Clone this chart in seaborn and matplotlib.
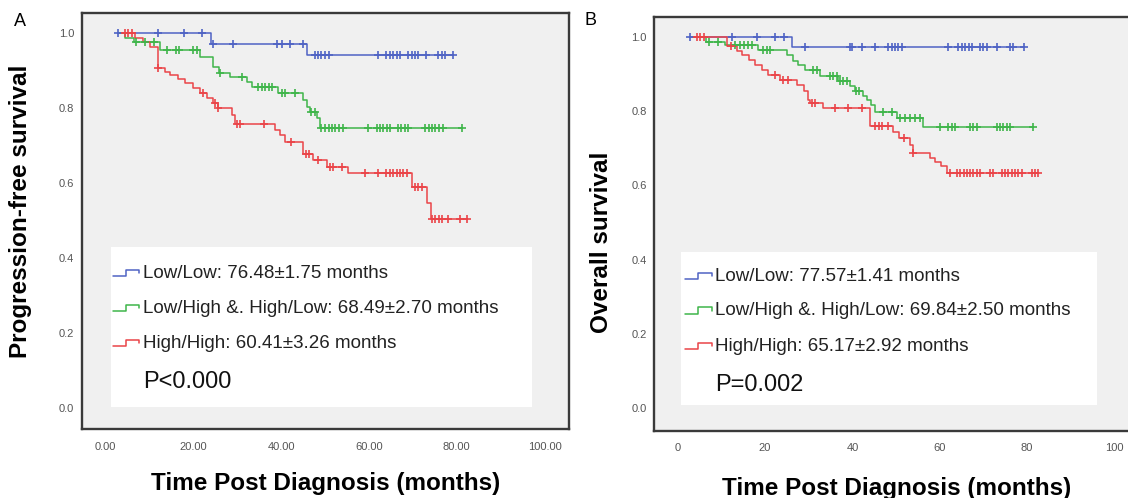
import numpy as np
import pandas as pd
import matplotlib
matplotlib.use("Agg")
import matplotlib.pyplot as plt
import seaborn as sns
from matplotlib.patches import Rectangle

# ---------------- data ----------------
group_labels = ["Low/Low", "Low/High &. High/Low", "High/High"]
x_ticks = [0, 20, 40, 60, 80, 100]
a_xtick_labels = ["0.00", "20.00", "40.00", "60.00", "80.00", "100.00"]
b_xtick_labels = ["0", "20", "40", "60", "80", "100"]
y_ticks = [0.0, 0.2, 0.4, 0.6, 0.8, 1.0]
y_tick_labels = ["0.0", "0.2", "0.4", "0.6", "0.8", "1.0"]

# Panel A - progression-free survival
a_low_start = 2.9
a_low_event_t = [24.0, 45.8]
a_low_event_s = [0.972, 0.942]
a_low_cens_t = [2.9, 12.0, 18.0, 22.0, 24.4, 29.0, 39.0, 40.2, 42.0, 45.1, 47.7, 48.5,
                 49.2, 50.0, 51.0, 62.1, 64.0, 64.8, 65.5, 66.3, 67.1, 69.0, 69.7, 70.5,
                 71.2, 73.1, 75.8, 76.6, 77.3, 79.2]

a_mid_start = 3.0
a_mid_event_t = [4.5, 6.4, 12.5, 21.5, 24.6, 25.8, 28.4, 32.2, 33.3, 39.4, 45.1, 45.8,
                 46.5, 48.1, 48.9]
a_mid_event_s = [0.988, 0.977, 0.955, 0.938, 0.911, 0.893, 0.884, 0.871, 0.858, 0.840,
                 0.822, 0.804, 0.789, 0.773, 0.748]
a_mid_cens_t = [7.0, 9.0, 11.0, 14.0, 16.1, 16.8, 20.0, 20.8, 26.1, 31.0, 34.8, 35.6, 36.4,
                37.2, 37.9, 40.1, 40.9, 43.2, 46.9, 47.7, 49.2, 50.0, 50.8, 51.5, 52.3,
                53.1, 54.0, 59.9, 61.8, 62.5, 63.3, 64.1, 64.8, 66.7, 67.4, 68.2, 69.0,
                72.8, 73.6, 74.3, 75.1, 75.9, 76.9, 81.1]

a_high_start = 3.7
a_high_event_t = [6.7, 8.6, 10.2, 12.0, 13.6, 14.7, 16.6, 18.1, 20.0, 21.5, 23.1, 24.6,
                  25.7, 28.8, 29.5, 38.6, 39.8, 40.9, 45.1, 47.3, 50.4, 55.3, 69.7, 73.2,
                  74.1]
a_high_event_s = [0.988, 0.976, 0.964, 0.908, 0.898, 0.889, 0.878, 0.867, 0.853, 0.840,
                  0.827, 0.813, 0.802, 0.782, 0.757, 0.742, 0.729, 0.711, 0.678, 0.662,
                  0.644, 0.627, 0.591, 0.547, 0.504]
a_high_cens_t = [4.5, 5.2, 6.0, 12.0, 22.3, 25.0, 25.7, 29.9, 30.6, 36.0, 42.2, 45.6, 46.3,
                 48.3, 51.1, 51.9, 53.8, 59.1, 62.1, 64.0, 64.8, 65.5, 66.3, 67.1, 67.8,
                 68.6, 70.5, 71.2, 72.0, 74.3, 75.1, 75.9, 76.6, 78.1, 80.8, 82.3]

a_means = ["76.48\u00b11.75", "68.49\u00b12.70", "60.41\u00b13.26"]
a_p_text = "P<0.000"
a_ylabel = "Progression-free survival"

# Panel B - overall survival
b_low_start = 2.8
b_low_event_t = [26.1]
b_low_event_s = [0.971]
b_low_cens_t = [2.8, 12.3, 18.2, 22.3, 24.3, 29.2, 39.4, 40.0, 42.3, 45.2, 48.2, 49.0, 49.8,
                50.5, 51.3, 62.0, 64.3, 65.1, 65.8, 66.6, 67.3, 69.2, 70.0, 70.8, 73.1,
                76.1, 76.9, 79.2]

b_mid_start = 3.5
b_mid_event_t = [6.5, 10.8, 18.4, 24.9, 26.5, 27.6, 29.1, 32.6, 36.8, 39.5, 40.6, 42.5,
                 43.3, 44.2, 45.2, 50.2, 56.2]
b_mid_event_s = [0.986, 0.977, 0.965, 0.951, 0.934, 0.923, 0.911, 0.893, 0.880, 0.867,
                 0.853, 0.840, 0.830, 0.815, 0.798, 0.780, 0.757]
b_mid_cens_t = [7.2, 9.3, 13.1, 14.2, 15.2, 16.0, 17.0, 19.6, 20.4, 21.1, 31.0, 31.8, 34.9,
                35.6, 36.4, 37.2, 37.9, 38.7, 40.9, 41.6, 47.1, 49.0, 50.9, 52.1, 53.2,
                54.4, 55.5, 60.1, 62.0, 62.7, 63.5, 66.9, 67.7, 68.5, 73.1, 73.8, 74.6,
                75.4, 76.1, 81.4]

b_high_start = 3.5
b_high_event_t = [11.2, 13.5, 14.7, 16.2, 17.7, 19.2, 20.7, 23.5, 27.2, 28.8, 29.9, 30.2,
                  33.3, 44.1, 49.4, 50.6, 53.2, 53.9, 57.8, 59.0, 60.4, 61.6]
b_high_event_s = [0.974, 0.962, 0.951, 0.938, 0.925, 0.911, 0.898, 0.884, 0.869, 0.853,
                  0.830, 0.822, 0.808, 0.760, 0.744, 0.727, 0.709, 0.688, 0.673, 0.664,
                  0.652, 0.634]
b_high_cens_t = [4.3, 5.1, 5.9, 12.2, 22.3, 24.0, 25.2, 30.7, 31.4, 36.0, 39.0, 42.1, 45.2,
                 46.0, 46.7, 48.2, 51.9, 53.9, 62.3, 63.9, 64.7, 65.5, 66.3, 66.9, 67.7,
                 68.5, 69.2, 71.5, 72.3, 74.3, 75.0, 75.7, 76.5, 77.3, 78.0, 78.8, 81.1,
                 81.9, 82.6]

b_means = ["77.57\u00b11.41", "69.84\u00b12.50", "65.17\u00b12.92"]
b_p_text = "P=0.002"
b_ylabel = "Overall survival"

x_label = "Time Post Diagnosis (months)"

# ---------------- style ----------------
colors = ["#4f63c4", "#3fb54a", "#ea4448"]
sns.set_style("white")
plt.rcParams["font.family"] = ["Liberation Sans", "DejaVu Sans"]

W, H = 1128, 498
fig = plt.figure(figsize=(W / 100, H / 100), dpi=100)
fig.patch.set_facecolor("white")

A_box = (82.0, 13.0, 569.0, 429.0)      # left, top, right, bottom in px
B_box = (654.2, 17.0, 1138.6, 430.7)


def add_axes(box):
    l, t, r, b = box
    return fig.add_axes([l / W, 1 - b / H, (r - l) / W, (b - t) / H])


def to_ax(box, px, py):
    l, t, r, b = box
    return ((px - l) / (r - l), (b - py) / (b - t))


def km_frame(start, ev_t, ev_s, cens_t):
    end = max(max(cens_t), max(ev_t))
    xs = [start] + list(ev_t) + [end]
    ys = [1.0] + list(ev_s) + [ev_s[-1]]
    levels = np.array([1.0] + list(ev_s))
    idx = np.searchsorted(np.array(ev_t), np.array(cens_t), side="right")
    cy = levels[idx]
    return pd.DataFrame({"t": xs, "s": ys}), pd.DataFrame({"t": cens_t, "s": cy})


def draw_panel(ax, box, groups, xlim, ylim, xticklabels, means, ptext,
               leg_rect, glyph_x, text_x, rows_y, p_y):
    ax.set_facecolor("#f0f0f0")
    # legend background box
    (x0, y0) = to_ax(box, leg_rect[0], leg_rect[3])
    (x1, y1) = to_ax(box, leg_rect[2], leg_rect[1])
    ax.add_patch(Rectangle((x0, y0), x1 - x0, y1 - y0, transform=ax.transAxes,
                           facecolor="white", edgecolor="none", zorder=1))
    for (start, et, es, ct), col in zip(groups, colors):
        line_df, cens_df = km_frame(start, et, es, ct)
        sns.lineplot(data=line_df, x="t", y="s", ax=ax, drawstyle="steps-post",
                     color=col, lw=1.1, estimator=None, sort=False, zorder=3)
        sns.scatterplot(data=cens_df, x="t", y="s", ax=ax, marker="+", s=32,
                        color=col, linewidth=1.2, zorder=4)
    ax.set_xlim(*xlim)
    ax.set_ylim(*ylim)
    ax.set_xticks(x_ticks)
    ax.set_xticklabels(xticklabels)
    ax.set_yticks(y_ticks)
    ax.set_yticklabels(y_tick_labels)
    ax.set_xlabel("")
    ax.set_ylabel("")
    ax.tick_params(axis="x", direction="out", length=5, width=1.3, color="#444",
                   labelsize=8, labelcolor="#555", pad=4)
    ax.tick_params(axis="y", direction="out", length=4, width=1.0, color="#444",
                   labelsize=8, labelcolor="#555", pad=1.5)
    for sp in ax.spines.values():
        sp.set_visible(True)
        sp.set_color("#3a3a3a")
        sp.set_linewidth(1.7)
    # legend entries
    gx0, gxm, gx1 = glyph_x
    for label, mean, col, py in zip(group_labels, means, colors, rows_y):
        pts = [(gx0, py + 3), (gxm, py + 3), (gxm, py - 3.5), (gx1, py - 3.5), (gx1, py)]
        xs, ys = zip(*[to_ax(box, px, pyy) for px, pyy in pts])
        ax.plot(xs, ys, color=col, lw=1.1, transform=ax.transAxes, zorder=5)
        tx, ty = to_ax(box, text_x, py)
        ax.text(tx, ty, f"{label}: {mean} months", transform=ax.transAxes,
                ha="left", va="center", fontsize=13.5, color="#222", zorder=5)
    tx, ty = to_ax(box, text_x, p_y)
    ax.text(tx, ty, ptext, transform=ax.transAxes, ha="left", va="center",
            fontsize=17, color="#111", zorder=5)


axA = add_axes(A_box)
draw_panel(axA, A_box,
           [(a_low_start, a_low_event_t, a_low_event_s, a_low_cens_t),
            (a_mid_start, a_mid_event_t, a_mid_event_s, a_mid_cens_t),
            (a_high_start, a_high_event_t, a_high_event_s, a_high_cens_t)],
           (-5.33, 105.56), (-0.055, 1.054), a_xtick_labels, a_means, a_p_text,
           (110.7, 247.3, 532.0, 406.7), (112.5, 125.5, 139.3), 142.9,
           [273.3, 308.3, 343.3], 381.7)

axB = add_axes(B_box)
draw_panel(axB, B_box,
           [(b_low_start, b_low_event_t, b_low_event_s, b_low_cens_t),
            (b_mid_start, b_mid_event_t, b_mid_event_s, b_mid_cens_t),
            (b_high_start, b_high_event_t, b_high_event_s, b_high_cens_t)],
           (-5.41, 105.56), (-0.0603, 1.053), b_xtick_labels, b_means, b_p_text,
           (681.4, 251.7, 1097.5, 405.0), (685.0, 698.0, 712.2), 715.1,
           [276.0, 310.7, 346.0], 385.0)

# axis titles and panel letters
fig.text(20.5 / W, 1 - 211 / H, a_ylabel, rotation=90, ha="center", va="center",
         fontsize=17.5, fontweight="bold", color="black")
fig.text(602 / W, 1 - 242 / H, b_ylabel, rotation=90, ha="center", va="center",
         fontsize=17.5, fontweight="bold", color="black")
fig.text(326 / W, 1 - 483.3 / H, x_label, ha="center", va="center",
         fontsize=17.5, fontweight="bold", color="black")
fig.text(896.6 / W, 1 - 488.3 / H, x_label, ha="center", va="center",
         fontsize=17.5, fontweight="bold", color="black")
fig.text(19.6 / W, 1 - 21.5 / H, "A", ha="center", va="center", fontsize=13, color="black")
fig.text(591 / W, 1 - 20 / H, "B", ha="center", va="center", fontsize=13, color="black")

fig.savefig("out.png", dpi=100, facecolor="white")
